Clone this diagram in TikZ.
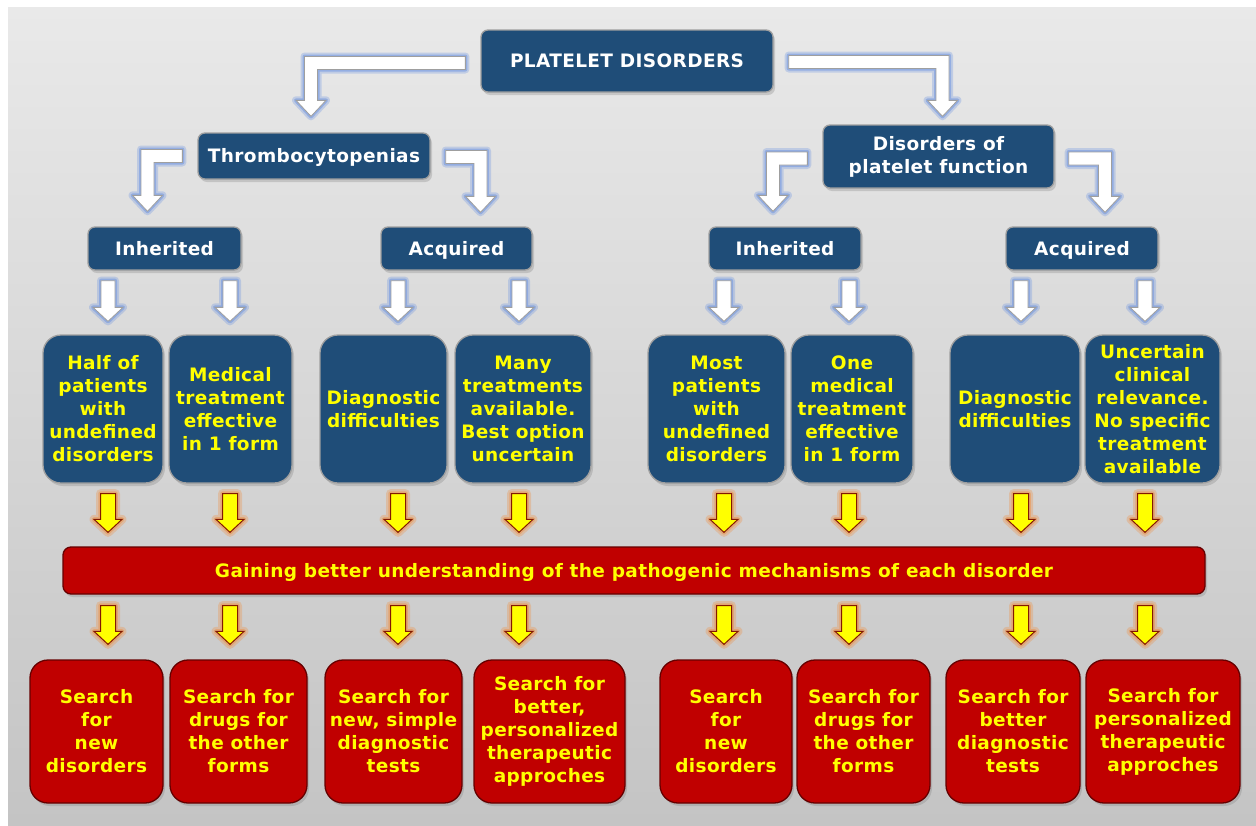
\documentclass[tikz,border=0pt]{standalone}
\usepackage{fontspec}
\setmainfont[LetterSpace=2]{DejaVu Sans}
\usepackage{tikz}
\usetikzlibrary{calc,shadows}

\definecolor{boxblue}{RGB}{31,77,120}
\definecolor{boxred}{RGB}{192,0,0}
\definecolor{txtyellow}{RGB}{255,255,0}
\definecolor{glowblue}{RGB}{105,145,225}
\definecolor{gloworange}{RGB}{240,140,60}
\definecolor{arrowedge}{RGB}{130,25,0}
\definecolor{bgtop}{RGB}{233,233,233}
\definecolor{bgbot}{RGB}{196,196,196}

\newcommand{\boxfont}{\fontsize{18.5}{23}\selectfont\bfseries}

% straight block arrow: style, start, tip, half shaft, half head, head length
\newcommand{\dnarr}[6]{%
  \path[#1] let \p1=#2, \p2=#3 in
    (\x1-#4,\y1) -- (\x1-#4,\y2+#6) -- (\x1-#5,\y2+#6) -- (\x1,\y2)
    -- (\x1+#5,\y2+#6) -- (\x1+#4,\y2+#6) -- (\x1+#4,\y1) -- cycle;}

% elbow block arrow: direction (-1 left, 1 right), start, tip
\newcommand{\elbowarr}[3]{%
  \path[warrow] let \p1=#2, \p2=#3, \n1={#1*6.5}, \n2={#1*15} in
    (\x1,\y1+6.5pt) -- ({\x2+\n1*1pt},\y1+6.5pt) -- ({\x2+\n1*1pt},\y2+16pt)
    -- ({\x2+\n2*1pt},\y2+16pt) -- (\x2,\y2) -- ({\x2-\n2*1pt},\y2+16pt)
    -- ({\x2-\n1*1pt},\y2+16pt) -- ({\x2-\n1*1pt},\y1-6.5pt) -- (\x1,\y1-6.5pt) -- cycle;}

\begin{document}
\begin{tikzpicture}[
        x=1pt, y=-1pt,
        sz/.style 2 args={minimum width=#1pt, minimum height=#2pt},
        oneline/.style={text height=13.5pt, text depth=0pt},
        bluebox/.style={draw=gray!75, line width=1.3pt, fill=boxblue, align=center,
            inner sep=0pt, font=\boxfont,
            drop shadow={shadow xshift=2pt, shadow yshift=-3pt, opacity=0.3}},
        headbox/.style={bluebox, rounded corners=7pt, text=white},
        infobox/.style={bluebox, rounded corners=18pt, text=txtyellow},
        redbox/.style={draw=black!60!red, line width=1.3pt, fill=boxred, align=center,
            inner sep=0pt, font=\boxfont, text=txtyellow, rounded corners=18pt,
            drop shadow={shadow xshift=2pt, shadow yshift=-3pt, opacity=0.3}},
        warrow/.style={fill=white, draw=gray!75, line width=0.8pt,
            preaction={draw=glowblue, opacity=0.3, line width=8pt, line join=round},
            preaction={draw=glowblue, opacity=0.5, line width=4pt, line join=round}},
        yarrow/.style={fill=txtyellow, draw=arrowedge, line width=1pt,
            preaction={draw=gloworange, opacity=0.3, line width=9pt, line join=round},
            preaction={draw=gloworange, opacity=0.45, line width=4.5pt, line join=round}}
    ]
        % Background
        \useasboundingbox (0,0) rectangle (1256,825);
        \fill[white] (0,0) rectangle (1256,825);
        \shade[top color=bgtop, bottom color=bgbot] (8,7) rectangle (1256,825);

        % Top levels
        \node[headbox, oneline, sz={292}{62}] (pd) at (627,61) {PLATELET DISORDERS};
        \node[headbox, oneline, sz={232}{46}] (thr) at (314,156) {Thrombocytopenias};
        \node[headbox, sz={231}{63}] (dpf) at (938.5,156.5) {Disorders of\\platelet function};

        \node[headbox, oneline, sz={153}{43}] (inhL) at (164.5,248.5) {Inherited};
        \node[headbox, oneline, sz={151}{43}] (acqL) at (456.5,248.5) {Acquired};
        \node[headbox, oneline, sz={152}{43}] (inhR) at (785,248.5) {Inherited};
        \node[headbox, oneline, sz={152}{43}] (acqR) at (1082,248.5) {Acquired};

        % Current state
        \node[infobox, sz={120}{148}] (b1) at (103,409) {Half of\\patients\\with\\undefined\\disorders};
        \node[infobox, sz={123}{148}] (b2) at (230.5,409) {Medical\\treatment\\effective\\in 1 form};
        \node[infobox, sz={127}{148}] (b3) at (383.5,409) {Diagnostic\\difficulties};
        \node[infobox, sz={136}{148}] (b4) at (523,409) {Many\\treatments\\available.\\Best option\\uncertain};
        \node[infobox, sz={137}{148}] (b5) at (716.5,409) {Most\\patients\\with\\undefined\\disorders};
        \node[infobox, sz={122}{148}] (b6) at (852,409) {One\\medical\\treatment\\effective\\in 1 form};
        \node[infobox, sz={130}{148}] (b7) at (1015,409) {Diagnostic\\difficulties};
        \node[infobox, sz={135}{148}] (b8) at (1152.5,409) {Uncertain\\clinical\\relevance.\\No specific\\treatment\\available};

        % Common goal
        \node[redbox, oneline, rounded corners=8pt, sz={1142}{47}] (bar) at (634,570.5)
            {Gaining better understanding of the pathogenic mechanisms of each disorder};

        % Future research
        \node[redbox, sz={133}{143}] (r1) at (96.5,731.5) {Search\\for\\new\\disorders};
        \node[redbox, sz={137}{143}] (r2) at (238.5,731.5) {Search for\\drugs for\\the other\\forms};
        \node[redbox, sz={137}{143}] (r3) at (393.5,731.5) {Search for\\new, simple\\diagnostic\\tests};
        \node[redbox, sz={151}{143}] (r4) at (549.5,731.5) {Search for\\better,\\personalized\\therapeutic\\approches};
        \node[redbox, sz={132}{143}] (r5) at (726,731.5) {Search\\for\\new\\disorders};
        \node[redbox, sz={133}{143}] (r6) at (863.5,731.5) {Search for\\drugs for\\the other\\forms};
        \node[redbox, sz={134}{143}] (r7) at (1013,731.5) {Search for\\better\\diagnostic\\tests};
        \node[redbox, sz={154}{143}] (r8) at (1163,731.5) {Search for\\personalized\\therapeutic\\approches};

        % Arrow columns
        \foreach \i/\x in {1/108,2/230,3/398,4/519,5/724,6/849,7/1021,8/1145}
            \coordinate (c\i) at (\x,0);

        % Elbow arrows
        \elbowarr{-1}{($(pd.west)+(-15,2)$)}{($(thr.north)+(-3,-16)$)}
        \elbowarr{1}{($(pd.east)+(15,1)$)}{($(dpf.north)+(4,-8)$)}
        \elbowarr{-1}{($(thr.west)+(-15,0)$)}{($(inhL.north)+(-17,-15)$)}
        \elbowarr{1}{($(thr.east)+(15,1)$)}{($(acqL.north)+(24,-14)$)}
        \elbowarr{-1}{($(dpf.west)+(-15,2)$)}{($(inhR.north)+(-12,-15)$)}
        \elbowarr{1}{($(dpf.east)+(14,2)$)}{($(acqR.north)+(23,-14)$)}

        % Straight arrows
        \foreach \i/\s in {1/inhL,2/inhL,3/acqL,4/acqL,5/inhR,6/inhR,7/acqR,8/acqR} {
            \dnarr{warrow}{($(\s.south -| c\i)+(0,10)$)}{($(b\i.north)+(0,-13)$)}{7pt}{15pt}{14pt}
            \dnarr{yarrow}{($(b\i.south -| c\i)+(0,10)$)}{($(bar.north)+(0,-14)$)}{7.5pt}{14pt}{13pt}
            \dnarr{yarrow}{($(bar.south -| c\i)+(0,11)$)}{($(r\i.north)+(0,-15)$)}{7.5pt}{14pt}{13pt}
        }
    \end{tikzpicture}
\end{document}
